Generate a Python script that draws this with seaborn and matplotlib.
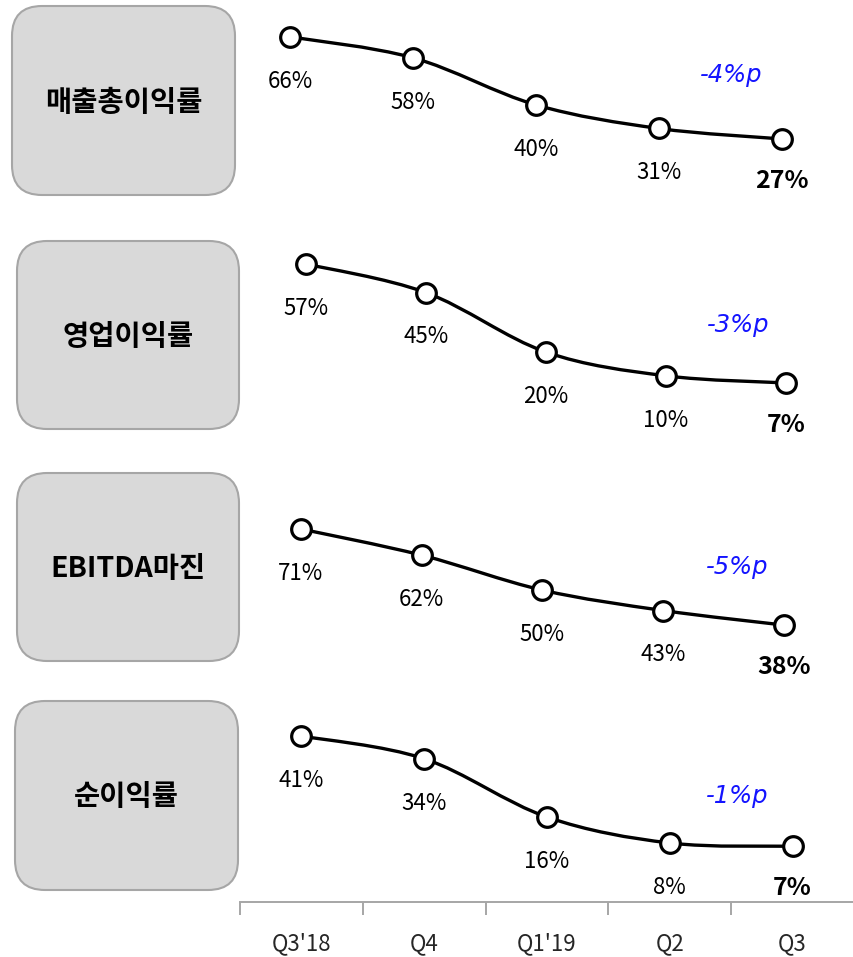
import numpy as np
import matplotlib
matplotlib.use('Agg')
import matplotlib.pyplot as plt
from matplotlib.patches import FancyBboxPatch, PathPatch
from matplotlib.path import Path
import seaborn as sns

sns.set_style('white')
plt.rcParams['font.family'] = ['Noto Sans CJK KR', 'DejaVu Sans']

quarters = ["Q3'18", "Q4", "Q1'19", "Q2", "Q3"]
metric_names = ['매출총이익률', '영업이익률', 'EBITDA마진', '순이익률']
gross_margin = [66, 58, 40, 31, 27]
operating_margin = [57, 45, 20, 10, 7]
ebitda_margin = [71, 62, 50, 43, 38]
net_margin = [41, 34, 16, 8, 7]
qoq_change = ['-4%p', '-3%p', '-5%p', '-1%p']

series = [gross_margin, operating_margin, ebitda_margin, net_margin]

W, H = 854, 957
fig = plt.figure(figsize=(W / 100, H / 100), dpi=100)

# pixel layout: (top, bottom) of each panel, axis limits, box rect, note position
panel_px = [(0, 225), (225, 460), (460, 690), (690, 902)]
xlims = [(-0.41, 4.59), (-0.55, 4.57), (-0.505, 4.58), (-0.5, 4.5)]
ylims = [(-5.9, 80.1), (-25.4, 73.4), (15.7, 94.7), (-10.2, 55.2)]
boxes = [(12, 6, 223, 189), (17, 241, 222, 188), (17, 473, 222, 188), (15, 701, 223, 189)]
note_xy = [(0.800, 0.667), (0.812, 0.574), (0.810, 0.535), (0.810, 0.50)]

# background layer for the rounded label boxes
bg = fig.add_axes([0, 0, 1, 1])
bg.set_xlim(0, W)
bg.set_ylim(H, 0)
bg.axis('off')
for (bx, by, bw, bh), name in zip(boxes, metric_names):
    bg.add_patch(FancyBboxPatch((bx, by), bw, bh,
                                boxstyle='round,pad=0,rounding_size=30',
                                facecolor='#d9d9d9', edgecolor='#a6a6a6', linewidth=1.5))
    bg.text(bx + bw / 2, by + bh / 2 + 2, name, ha='center', va='center',
            fontsize=20.5, fontweight='bold', color='black')


def smooth_path(xs, ys):
    pts = np.column_stack([xs, ys]).astype(float)
    n = len(pts)
    verts = [pts[0]]
    codes = [Path.MOVETO]
    for i in range(n - 1):
        prev = pts[max(i - 1, 0)]
        nxt = pts[min(i + 2, n - 1)]
        c1 = pts[i] + (pts[i + 1] - prev) / 6
        c2 = pts[i + 1] - (nxt - pts[i]) / 6
        verts += [c1, c2, pts[i + 1]]
        codes += [Path.CURVE4] * 3
    return Path(verts, codes)


x = np.arange(len(quarters))
axes = []
for k, (vals, (top, bot)) in enumerate(zip(series, panel_px)):
    ax = fig.add_axes([240 / W, 1 - bot / H, 614 / W, (bot - top) / H])
    ax.patch.set_alpha(0)
    ax.set_xlim(*xlims[k])
    ax.set_ylim(*ylims[k])
    ax.add_patch(PathPatch(smooth_path(x, vals), facecolor='none',
                           edgecolor='black', linewidth=2.4, zorder=2,
                           capstyle='round'))
    sns.scatterplot(x=x, y=vals, ax=ax, s=200, color='white',
                    edgecolor='black', linewidth=2.3, zorder=3)
    for i, v in enumerate(vals):
        last = i == len(vals) - 1
        ax.annotate(f'{v}%', (x[i], v), xytext=(0, -30 if last else -32),
                    textcoords='offset points', ha='center', va='center',
                    fontsize=18 if last else 16,
                    fontweight='bold' if last else 'normal', color='black')
    ax.text(*note_xy[k], qoq_change[k], transform=ax.transAxes,
            ha='center', va='center', fontsize=17.5, style='italic',
            family='DejaVu Sans', color='#1414ff')
    sns.despine(ax=ax, left=True, top=True, right=True, bottom=True)
    ax.set_yticks([])
    ax.set_xticks([])
    axes.append(ax)

ax = axes[-1]
ax.spines['bottom'].set_visible(True)
ax.spines['bottom'].set_color('#a6a6a6')
ax.spines['bottom'].set_linewidth(1.4)
ax.set_xticks(x)
ax.set_xticklabels(quarters, fontsize=16)
ax.set_xticks(np.arange(-0.5, 4.0, 1.0), minor=True)
ax.tick_params(axis='x', which='major', bottom=False, length=0, pad=22)
ax.tick_params(axis='x', which='minor', bottom=True, length=9, width=1.4,
               color='#a6a6a6', direction='out')

fig.savefig('out.png', dpi=100)
